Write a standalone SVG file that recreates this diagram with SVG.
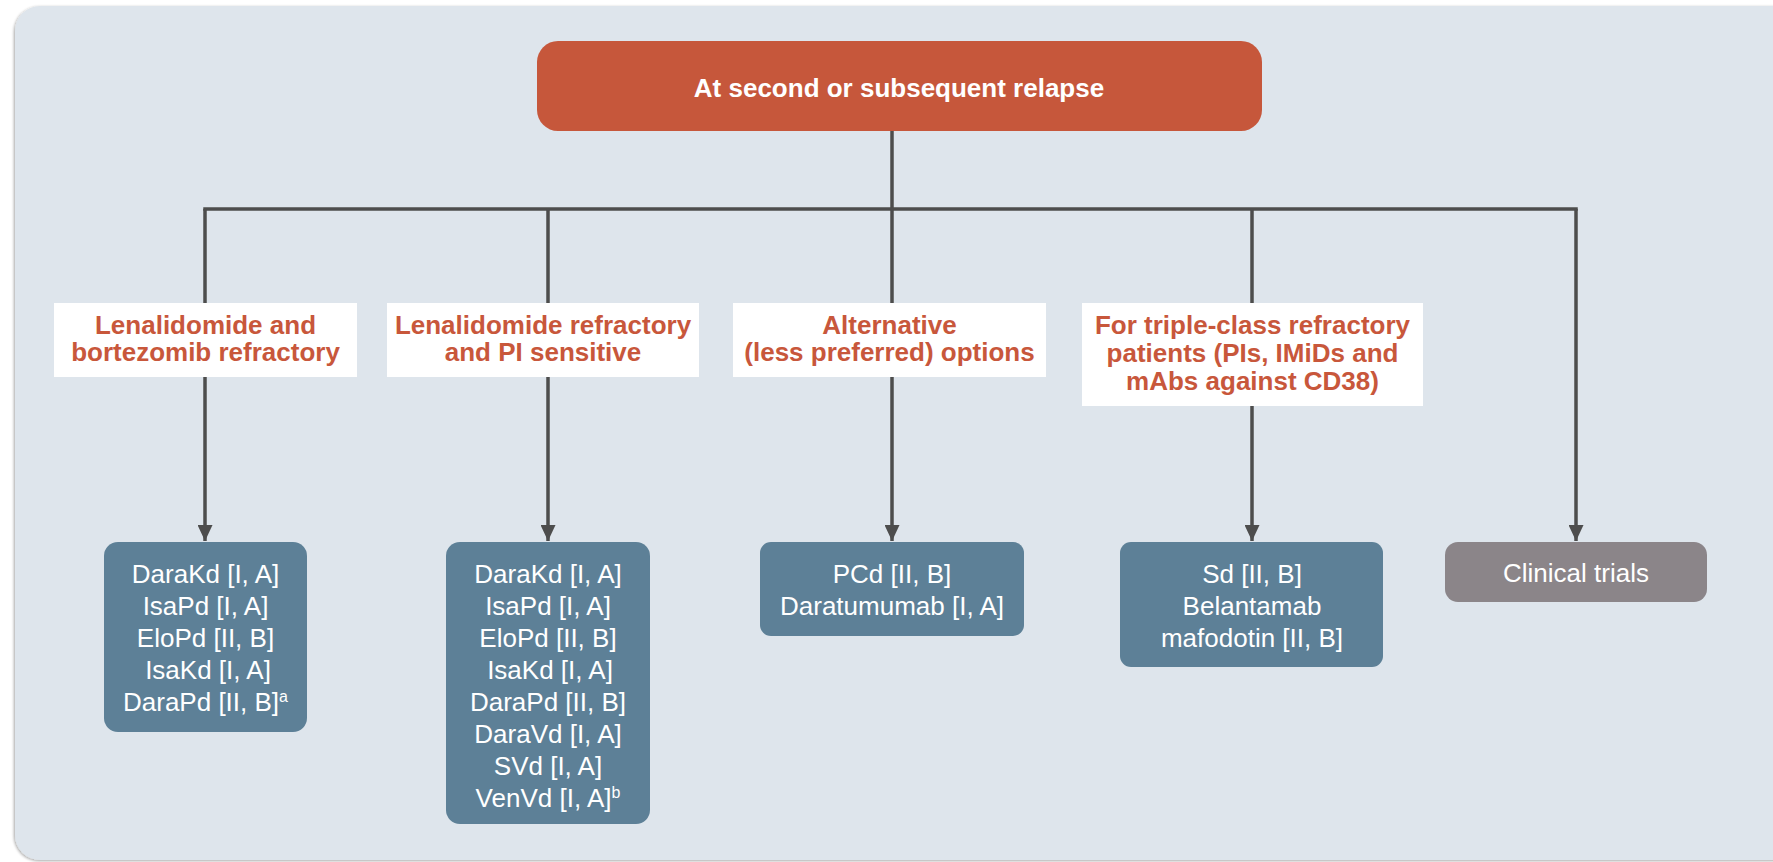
<svg xmlns="http://www.w3.org/2000/svg" width="1773" height="862" viewBox="0 0 1773 862">
  <defs>
    <style>
      .panel { fill: #DEE5EC; }
      .top { fill: #C6573B; }
      .topText { font-family: "Liberation Sans", Arial, sans-serif; font-weight: bold; font-size: 26px; fill: #FFFFFF; text-anchor: middle; }
      .label { fill: #FFFFFF; }
      .labelText { font-family: "Liberation Sans", Arial, sans-serif; font-weight: bold; font-size: 26px; fill: #C8573B; text-anchor: middle; }
      .opt { fill: #5D8097; }
      .trial { fill: #8B8589; }
      .optText { font-family: "Liberation Sans", Arial, sans-serif; font-size: 26px; fill: #FFFFFF; text-anchor: middle; }
      .sup { font-size: 16px; }
      .conn { stroke: #4D4D4D; stroke-width: 3.5; fill: none; }
    </style>
    <marker id="arrow" markerUnits="userSpaceOnUse" markerWidth="16" markerHeight="15" refX="16" refY="7.5" orient="auto">
      <path d="M0,0 L16,7.5 L0,15 Z" fill="#4D4D4D"/>
    </marker>
    <filter id="shadow" x="-2%" y="-2%" width="104%" height="104%">
      <feGaussianBlur in="SourceAlpha" stdDeviation="1.5"/>
      <feOffset dx="-1" dy="1" result="b"/>
      <feComponentTransfer><feFuncA type="linear" slope="0.35"/></feComponentTransfer>
      <feMerge><feMergeNode/><feMergeNode in="SourceGraphic"/></feMerge>
    </filter>
  </defs>

  <rect x="0" y="0" width="1773" height="862" fill="#FFFFFF"/>
  <rect class="panel" x="15" y="6" width="1800" height="854" rx="25" ry="25" filter="url(#shadow)"/>

  <g id="connectors">
    <line class="conn" x1="892" y1="130" x2="892" y2="209"/>
    <line class="conn" x1="205" y1="209" x2="1576" y2="209" stroke-linecap="square"/>
    <line class="conn" x1="205" y1="209" x2="205" y2="541" marker-end="url(#arrow)"/>
    <line class="conn" x1="548" y1="209" x2="548" y2="541" marker-end="url(#arrow)"/>
    <line class="conn" x1="892" y1="209" x2="892" y2="541" marker-end="url(#arrow)"/>
    <line class="conn" x1="1252" y1="209" x2="1252" y2="541" marker-end="url(#arrow)"/>
    <line class="conn" x1="1576" y1="209" x2="1576" y2="541" marker-end="url(#arrow)"/>
  </g>

  <g id="node-top">
    <rect class="top" x="537" y="41" width="725" height="90" rx="21" ry="21"/>
    <text class="topText" x="899" y="97">At second or subsequent relapse</text>
  </g>

  <g id="label-1">
    <rect class="label" x="54" y="303" width="303" height="74"/>
    <text class="labelText" x="205.5" y="334">Lenalidomide and</text>
    <text class="labelText" x="205.5" y="361">bortezomib refractory</text>
  </g>
  <g id="label-2">
    <rect class="label" x="387" y="303" width="312" height="74"/>
    <text class="labelText" x="543" y="334">Lenalidomide refractory</text>
    <text class="labelText" x="543" y="361">and PI sensitive</text>
  </g>
  <g id="label-3">
    <rect class="label" x="733" y="303" width="313" height="74"/>
    <text class="labelText" x="889.5" y="334">Alternative</text>
    <text class="labelText" x="889.5" y="361">(less preferred) options</text>
  </g>
  <g id="label-4">
    <rect class="label" x="1082" y="303" width="341" height="103"/>
    <text class="labelText" x="1252.5" y="334">For triple-class refractory</text>
    <text class="labelText" x="1252.5" y="362">patients (PIs, IMiDs and</text>
    <text class="labelText" x="1252.5" y="390">mAbs against CD38)</text>
  </g>

  <g id="options-1">
    <rect class="opt" x="104" y="542" width="203" height="190" rx="14" ry="14"/>
    <text class="optText" x="205.5" y="583">DaraKd [I, A]</text>
    <text class="optText" x="205.5" y="615">IsaPd [I, A]</text>
    <text class="optText" x="205.5" y="647">EloPd [II, B]</text>
    <text class="optText" x="208" y="679">IsaKd [I, A]</text>
    <text class="optText" x="205.5" y="711">DaraPd [II, B]<tspan class="sup" dy="-9">a</tspan></text>
  </g>
  <g id="options-2">
    <rect class="opt" x="446" y="542" width="204" height="282" rx="14" ry="14"/>
    <text class="optText" x="548" y="583">DaraKd [I, A]</text>
    <text class="optText" x="548" y="615">IsaPd [I, A]</text>
    <text class="optText" x="548" y="647">EloPd [II, B]</text>
    <text class="optText" x="550" y="679">IsaKd [I, A]</text>
    <text class="optText" x="548" y="711">DaraPd [II, B]</text>
    <text class="optText" x="548" y="743">DaraVd [I, A]</text>
    <text class="optText" x="548" y="775">SVd [I, A]</text>
    <text class="optText" x="548" y="807">VenVd [I, A]<tspan class="sup" dy="-9">b</tspan></text>
  </g>
  <g id="options-3">
    <rect class="opt" x="760" y="542" width="264" height="94" rx="11" ry="11"/>
    <text class="optText" x="892" y="583">PCd [II, B]</text>
    <text class="optText" x="892" y="615">Daratumumab [I, A]</text>
  </g>
  <g id="options-4">
    <rect class="opt" x="1120" y="542" width="263" height="125" rx="11" ry="11"/>
    <text class="optText" x="1252" y="583">Sd [II, B]</text>
    <text class="optText" x="1252" y="615">Belantamab</text>
    <text class="optText" x="1252" y="647">mafodotin [II, B]</text>
  </g>
  <g id="options-5">
    <rect class="trial" x="1445" y="542" width="262" height="60" rx="13" ry="13"/>
    <text class="optText" x="1576" y="582">Clinical trials</text>
  </g>
</svg>
